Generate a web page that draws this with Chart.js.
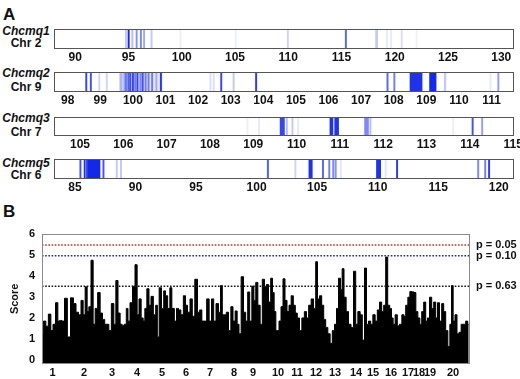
<!DOCTYPE html>
<html><head><meta charset="utf-8">
<script src="https://cdn.jsdelivr.net/npm/chart.js@4/dist/chart.umd.min.js"></script>
<style>
body{margin:0;background:#fff;}
#wrap{position:relative;width:520px;height:379px;overflow:hidden;font-family:"Liberation Sans",Arial,sans-serif;color:#111;}
canvas{position:absolute;left:0;}
.nm{position:absolute;left:0;width:52px;text-align:center;font-weight:bold;font-size:12px;line-height:13px;white-space:nowrap;}
.it{font-style:italic;}
.pan{position:absolute;font-weight:bold;font-size:17px;line-height:17px;}
</style></head><body>
<div id="wrap">
  <div class="pan" style="left:3px;top:6px">A</div>
  <div class="pan" style="left:3px;top:203px">B</div>
  <div class="nm it" style="top:25px">Chcmq1</div><div class="nm" style="top:37px">Chr 2</div>
  <div class="nm it" style="top:67px">Chcmq2</div><div class="nm" style="top:81px">Chr 9</div>
  <div class="nm it" style="top:112px">Chcmq3</div><div class="nm" style="top:126px">Chr 7</div>
  <div class="nm it" style="top:157px">Chcmq5</div><div class="nm" style="top:169px">Chr 6</div>
  <canvas id="s0" width="520" height="39"></canvas>
  <canvas id="s1" width="520" height="39"></canvas>
  <canvas id="s2" width="520" height="38"></canvas>
  <canvas id="s3" width="520" height="39"></canvas>
  <canvas id="pb" width="520" height="159" style="top:220px"></canvas>
</div>
<script>
// ---------- Panel A data: [start Mb, end Mb, intensity] ----------
const chr2Ticks = [90,95,100,105,110,115,120,125,130];
const chr2Range = [88, 131.2];
const chr2Bands = [[94.7,94.8,0.25],[94.95,95.0,1.0],[95.3,95.3,0.3],[95.7,95.8,0.5],[96.1,96.1,0.55],[96.4,96.45,0.4],[97.1,97.2,0.25],[99.8,99.8,0.08],[105.0,105.0,0.08],[109.9,110.0,0.2],[115.35,115.4,0.7],[118.2,118.4,0.25],[119.2,119.2,0.1],[119.6,119.6,0.1],[120.6,120.6,0.15],[122.0,122.0,0.06]];

const chr9Ticks = [98,99,100,101,102,103,104,105,106,107,108,109,110,111];
const chr9Range = [97.58, 111.69];
const chr9Bands = [[99.6,100.9,0.12],[98.55,98.57,0.85],[98.69,98.71,0.8],[98.95,98.97,0.2],[99.18,99.2,0.2],[99.6,99.67,0.25],[99.72,99.74,0.35],[99.77,99.79,0.55],[99.84,99.86,0.7],[99.9,99.93,0.8],[99.98,100.01,0.85],[100.05,100.07,0.55],[100.12,100.15,0.85],[100.21,100.23,0.5],[100.28,100.31,0.8],[100.37,100.39,0.55],[100.46,100.49,0.55],[100.57,100.6,0.55],[100.7,100.73,0.3],[100.84,100.87,0.9],[102.36,102.38,0.15],[102.46,102.48,0.15],[102.69,102.72,0.85],[103.07,103.09,0.25],[103.76,103.78,0.9],[107.79,107.81,0.7],[108.0,108.02,0.6],[108.5,108.87,0.95],[109.1,109.3,1.0],[109.55,109.6,0.25],[110.95,110.95,0.1],[111.19,111.21,0.45]];

const chr7Ticks = [105,106,107,108,109,110,111,112,113,114,115];
const chr7Range = [104.4, 115.02];
const chr7Bands = [[108.85,108.85,0.08],[109.12,109.12,0.1],[109.62,109.72,0.85],[109.76,109.77,0.3],[109.89,109.9,0.25],[110.02,110.02,0.1],[110.77,110.84,0.95],[110.88,110.97,0.95],[111.57,111.66,0.55],[111.69,111.71,0.3],[113.6,113.6,0.08],[114.05,114.07,0.8],[114.27,114.29,0.45]];

const chr6Ticks = [85,90,95,100,105,110,115,120];
const chr6Range = [83.27, 121.26];
const chr6Bands = [[85.4,85.44,0.8],[85.75,85.8,0.95],[85.95,86.02,0.9],[86.1,87.07,1.0],[87.3,87.38,0.8],[88.4,88.48,0.25],[88.75,88.85,0.25],[100.88,100.92,0.75],[103.15,103.2,0.2],[104.32,104.6,0.95],[105.43,105.5,0.7],[105.95,106.0,0.6],[106.28,106.35,0.55],[106.48,106.56,0.5],[106.9,106.9,0.12],[109.9,110.25,0.95],[110.6,110.6,0.12],[111.55,111.6,0.9],[118.25,118.35,0.55],[118.83,118.9,0.6],[119.15,119.25,0.9]];

// ---------- Panel B data ----------
const chromLabels = ['1','2','3','4','5','6','7','8','9','10','11','12','13','14','15','16','17','18','19','20'];
const chromCenters = [10.5,42,70,95,120,144,168,192,211,236,255,274,293,314,331,349,366,377,388,411];
const genomeSpan = [0, 428];
const scorePos = [0,2.7,5,7.7,10,12,15,16.7,18.7,21,24,26.7,30.3,32.7,35.3,37.7,40.3,42,44.3,46,47.7,50.3,52,54.3,57,59.3,61.7,63.7,66,67.7,71,72.7,75,77,79.3,81,83.3,85.3,86.7,89.3,91.7,94.3,96,98,100.3,102,103.7,106,108,110,112.7,114.7,116,118.3,120.7,122.7,124.3,127,128.7,131,133.7,135.3,137.7,140,142.7,144.3,146.7,149.3,151.3,154.3,156.7,158.7,161,163.3,166,168.3,170.7,172.7,175.3,177.7,179.3,181.3,183.3,185.3,187.7,190,192,194.3,196,198,200.3,202.7,204.7,206.7,208.7,211,
212.8,214.7,217,219.3,221.3,223.7,225.3,227.7,229.7,231.3,233,234.7,236,238,240,242,244,246,248,250.3,252.3,254.3,256.3,258.7,261,263.7,265.3,268,270.3,272.7,274.7,276.3,278.7,280.7,282.7,284.7,287,289.3,291.3,293.7,295.3,297.7,299.3,301,303,305.3,307.7,310.3,312.7,314.7,317,319.3,321.3,323.7,325.3,327.7,329.7,332,334.3,336.3,338.7,340.7,342.7,344.7,346.7,348.7,350.3,352,354.3,356.3,358.7,361,362.7,364.7,367,368.7,371,373,374.7,377,378.7,380.7,382.7,384.7,386.3,388.7,390.7,392.7,394.7,396.3,398.7,400.7,402.7,404.7,407,408.7,410.3,412,414,416,418,420.3,422.7,424.7,426.7];
const scoreVal = [1.26,1.86,1.62,2.19,1.41,1.71,2.73,1.86,1.89,1.86,2.94,1.11,2.96,2.69,2.28,2.16,2.84,2.16,3.48,2.31,2.54,4.74,1.71,2.46,3.21,2.24,1.94,1.71,1.71,1.41,2.69,1.71,3.78,2.24,1.71,1.64,1.71,2.46,1.86,2.73,3.51,4.53,2.16,2.91,2.01,1.86,2.46,3.39,2.61,3.03,2.16,2.61,1.11,3.44,2.46,3.29,3.06,2.46,3.44,2.46,1.86,2.46,2.39,2.16,3.06,2.61,2.28,2.91,2.09,3.84,2.28,2.39,1.86,1.86,2.91,1.86,2.91,1.86,2.69,2.28,3.54,2.16,2.16,2.28,1.41,2.54,1.86,2.34,1.71,1.26,3.96,2.28,1.86,3.24,1.86,3.51,
2.84,3.69,2.61,1.71,3.84,3.51,3.59,2.76,3.89,3.21,2.31,1.41,1.41,1.86,2.54,3.86,2.84,2.31,2.61,3.06,2.61,2.24,2.01,1.41,2.01,2.31,2.01,2.61,2.91,2.46,4.67,2.91,3.06,2.61,1.94,1.56,1.26,0.81,1.41,1.71,2.46,3.89,3.36,4.34,2.99,2.31,1.71,1.56,4.22,1.71,2.31,2.16,0.96,4.37,1.71,1.86,1.71,2.16,1.86,2.39,2.76,2.31,2.61,4.89,2.61,2.46,2.01,1.71,2.16,1.64,1.71,2.16,2.09,2.61,2.99,3.26,3.24,3.21,2.31,2.01,1.71,2.31,2.76,1.86,2.01,2.99,2.46,2.76,2.01,2.73,1.86,2.69,2.31,1.41,0.66,1.71,3.54,1.86,2.16,1.26,1.33,1.71,1.71,1.86,1.71];
const thresholdVals = [5.46, 4.95, 3.51];
const thresholdNames = ['p = 0.05','p = 0.10','p = 0.63'];
const thresholdColors = ['#d8262e','#1c2a9c','#111111'];

// ---------- layout ----------
Chart.defaults.font.family = "'Liberation Sans', Arial, sans-serif";
Chart.defaults.font.weight = 'bold';
Chart.defaults.color = '#111';
Chart.defaults.animation = false;

const boxPlugin = (color) => ({
  id:'box'+Math.random(),
  afterDraw(chart){
    const a = chart.chartArea, c = chart.ctx;
    c.save(); c.strokeStyle = color; c.lineWidth = 1;
    c.strokeRect(Math.round(a.left)+0.5, Math.round(a.top)+0.5, Math.round(a.right-a.left)-1, Math.round(a.bottom-a.top)-1);
    c.restore();
  }
});

const stripDefs = [
  {id:'s0', range:chr2Range, ticks:chr2Ticks, bands:chr2Bands, top:29, h:20},
  {id:'s1', range:chr9Range, ticks:chr9Ticks, bands:chr9Bands, top:72, h:20},
  {id:'s2', range:chr7Range, ticks:chr7Ticks, bands:chr7Bands, top:117, h:19},
  {id:'s3', range:chr6Range, ticks:chr6Ticks, bands:chr6Bands, top:159, h:20}
];

stripDefs.forEach(sd => {
  const cv = document.getElementById(sd.id);
  cv.style.top = (sd.top - 2) + 'px';
  new Chart(cv, {
    type:'bar',
    data:{datasets:[{
      data: sd.bands.map(b => ({y:0.5, x:[b[0], b[1]]})),
      backgroundColor: ctx => {
        const b = sd.bands[ctx.dataIndex];
        return 'rgba(20,40,232,' + (b ? b[2] : 0) + ')';
      },
      borderWidth:0, barThickness: sd.h, minBarLength:1.3, grouped:false
    }]},
    options:{
      indexAxis:'y', responsive:false,
      layout:{padding:{left:54, right:6, top:2, bottom:0}},
      plugins:{legend:{display:false}, tooltip:{enabled:false}},
      scales:{
        y:{type:'linear', min:0, max:1, display:false},
        x:{type:'linear', min:sd.range[0], max:sd.range[1],
           grid:{display:false, drawTicks:false}, border:{display:false},
           ticks:{font:{size:12, weight:'bold'}, padding:1, maxRotation:0, autoSkip:false, color:'#111'},
           afterBuildTicks: s => { s.ticks = sd.ticks.map(v => ({value:v})); },
           afterFit: s => { s.height = 17; s.paddingLeft = 0; s.paddingRight = 0; }
        }
      }
    },
    plugins:[boxPlugin('#555')]
  });
});

// ---------- Panel B ----------
const pLabelPlugin = {
  id:'plabels',
  afterDraw(chart){
    const c = chart.ctx, ys = chart.scales.y, a = chart.chartArea;
    c.save(); c.font = "bold 11px 'Liberation Sans', Arial, sans-serif"; c.fillStyle = '#111';
    c.textBaseline = 'middle'; c.textAlign = 'left';
    thresholdVals.forEach((v,i) => c.fillText(thresholdNames[i], a.right + 6, ys.getPixelForValue(v)));
    c.restore();
  }
};

const thrDatasets = thresholdVals.map((v,i) => ({
  type:'line', data:[{x:genomeSpan[0], y:v},{x:genomeSpan[1], y:v}],
  borderColor: thresholdColors[i], borderWidth:1.6, borderDash:[1.6,1.6],
  pointRadius:0, fill:false, order:0
}));

new Chart(document.getElementById('pb'), {
  type:'line',
  data:{datasets:[
    ...thrDatasets,
    {data: scorePos.map((p,i) => ({x:p, y:scoreVal[i]})), borderColor:'#000', backgroundColor:'#000',
     borderWidth:1, pointRadius:0, fill:'start', stepped:'middle', order:5}
  ]},
  options:{
    responsive:false,
    layout:{padding:{left:8, right:50, top:7, bottom:0}},
    plugins:{legend:{display:false}, tooltip:{enabled:false}},
    scales:{
      x:{type:'linear', min:genomeSpan[0], max:genomeSpan[1],
         grid:{display:false, drawTicks:false}, border:{display:false},
         ticks:{font:{size:11, weight:'bold'}, padding:2, maxRotation:0, autoSkip:false,
                callback:(v) => { const i = chromCenters.indexOf(v); return i >= 0 ? chromLabels[i] : ''; }},
         afterBuildTicks: s => { s.ticks = chromCenters.map(v => ({value:v})); },
         afterFit: s => { s.height = 15; s.paddingLeft = 0; s.paddingRight = 0; }
      },
      y:{type:'linear', min:-0.17, max:6,
         grid:{display:false, drawTicks:false}, border:{display:false},
         ticks:{font:{size:11, weight:'bold'}, padding:7},
         title:{display:true, text:'Score', font:{size:11, weight:'bold'}, padding:0},
         afterBuildTicks: s => { s.ticks = [0,1,2,3,4,5,6].map(v => ({value:v})); },
         afterFit: s => { s.width = 34; }
      }
    }
  },
  plugins:[boxPlugin('#8a8a8a'), pLabelPlugin]
});
</script>
</body></html>
